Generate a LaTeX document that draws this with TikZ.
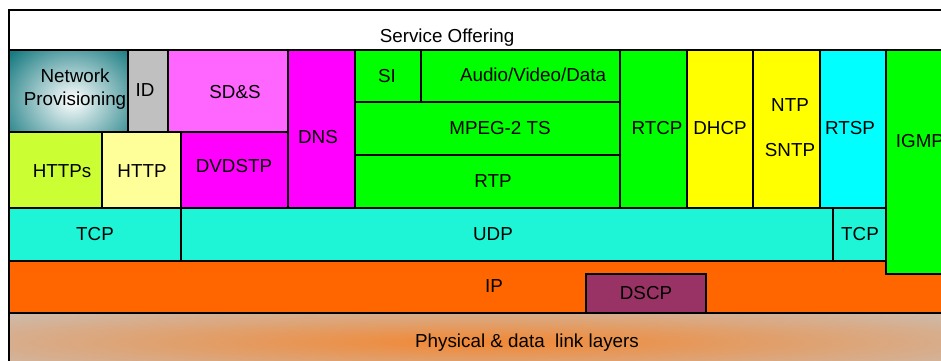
\documentclass[tikz,border=0pt]{standalone}
\usepackage{fontspec}
\setmainfont{Liberation Sans}
\usetikzlibrary{fadings}

\definecolor{npteal}{RGB}{22,122,128}
\definecolor{idgray}{RGB}{192,192,192}
\definecolor{sdspink}{RGB}{255,102,255}
\definecolor{dnsmag}{RGB}{255,0,255}
\definecolor{httpslime}{RGB}{204,255,51}
\definecolor{httpcream}{RGB}{255,255,153}
\definecolor{mpgreen}{RGB}{0,255,0}
\definecolor{ntpyellow}{RGB}{255,255,0}
\definecolor{rtspcyan}{RGB}{0,255,255}
\definecolor{tpaqua}{RGB}{30,245,215}
\definecolor{iporange}{RGB}{255,102,0}
\definecolor{dscpplum}{RGB}{153,51,102}
\definecolor{physgray}{RGB}{199,197,195}
\definecolor{phystan}{RGB}{218,172,138}
\definecolor{physorange}{RGB}{242,136,52}

\tikzfading[name=glowfade, inner color=transparent!0, outer color=transparent!100]

\tikzset{
  layer/.style={draw=black, line width=0.8pt},
  lbl/.style={font=\fontsize{10.7}{12.8}\selectfont, inner sep=0pt, text height=0.716em, text depth=0pt},
  lbltwo/.style={font=\fontsize{10.7}{12.8}\selectfont, inner sep=0pt, align=center},
}

\begin{document}
\begin{tikzpicture}[x=0.02cm, y=-0.02cm]
    \clip (0,0) rectangle (941,360);
    \fill[white] (0,0) rectangle (941,360);

    % service offering row
    \draw[layer, fill=white] (9,10) rectangle (960,50);
    \node[lbl] (svc) at (447,36) {Service Offering};

    % application protocols
    \fill[npteal] (9,50) rectangle (128,132);
    \begin{scope}
      \clip (9,50) rectangle (128,132);
      \shade[inner color=white, outer color=npteal] (72,100) ellipse (82 and 70);
    \end{scope}
    \draw[layer] (9,50) rectangle (128,132);
    \draw[layer, fill=idgray] (128,50) rectangle (168,132);
    \draw[layer, fill=sdspink] (168,50) rectangle (288,132);
    \draw[layer, fill=dnsmag] (288,50) rectangle (355,208);
    \draw[layer, fill=httpslime] (9,132) rectangle (102,208);
    \draw[layer, fill=httpcream] (102,132) rectangle (181,208);
    \draw[layer, fill=dnsmag] (181,132) rectangle (288,208);
    \draw[layer, fill=mpgreen] (355,50) rectangle (421,102);
    \draw[layer, fill=mpgreen] (421,50) rectangle (620,102);
    \draw[layer, fill=mpgreen] (355,102) rectangle (620,155);
    \draw[layer, fill=mpgreen] (355,155) rectangle (620,208);
    \draw[layer, fill=mpgreen] (620,50) rectangle (687,208);
    \draw[layer, fill=ntpyellow] (687,50) rectangle (753,208);
    \draw[layer, fill=ntpyellow] (753,50) rectangle (820,208);
    \draw[layer, fill=rtspcyan] (820,50) rectangle (886,208);

    \node[lbltwo] (np) at (75,89) {Network\\Provisioning};
    \node[lbl] (id) at (145,90) {ID};
    \node[lbl] (sds) at (235,92) {SD\&S};
    \node[lbl] (dns) at (318,137) {DNS};
    \node[lbl] (https) at (62,171) {HTTPs};
    \node[lbl] (http) at (142,171) {HTTP};
    \node[lbl] (dvdstp) at (234,166) {DVDSTP};
    \node[lbl] (si) at (387,76) {SI};
    \node[lbl] (avd) at (533,75) {Audio/Video/Data};
    \node[lbl] (mpeg) at (500,128) {MPEG-2 TS};
    \node[lbl] (rtp) at (493,181) {RTP};
    \node[lbl] (rtcp) at (657,128) {RTCP};
    \node[lbl] (dhcp) at (720,128) {DHCP};
    \node[lbl] (ntp) at (790,105) {NTP};
    \node[lbl] (sntp) at (790,150) {SNTP};
    \node[lbl] (rtsp) at (850,128) {RTSP};

    % transport
    \draw[layer, fill=tpaqua] (9,208) rectangle (181,261);
    \draw[layer, fill=tpaqua] (181,208) rectangle (833,261);
    \draw[layer, fill=tpaqua] (833,208) rectangle (886,261);
    \node[lbl] (tcpa) at (95,234) {TCP};
    \node[lbl] (udp) at (493,234) {UDP};
    \node[lbl] (tcpb) at (860,234) {TCP};

    % network
    \draw[layer, fill=iporange] (9,261) rectangle (960,313);
    \draw[layer, fill=mpgreen] (886,50) rectangle (960,274);
    \node[lbl] (igmp) at (920,141) {IGMP};
    \draw[layer, fill=dscpplum] (586,274) rectangle (706,313);
    \node[lbl] (ip) at (494,286) {IP};
    \node[lbl] (dscp) at (646,293) {DSCP};

    % physical
    \begin{scope}
      \clip (9,313) rectangle (941,380);
      \shade[left color=physgray, middle color=phystan, right color=physgray] (9,313) rectangle (941,380);
      \fill[physorange, path fading=glowfade] (480,342) ellipse (760 and 48);
    \end{scope}
    \draw[layer] (9,313) rectangle (960,380);
    \node[lbl] (phys) at (527,341) {Physical \& data\ \ link layers};
\end{tikzpicture}
\end{document}
